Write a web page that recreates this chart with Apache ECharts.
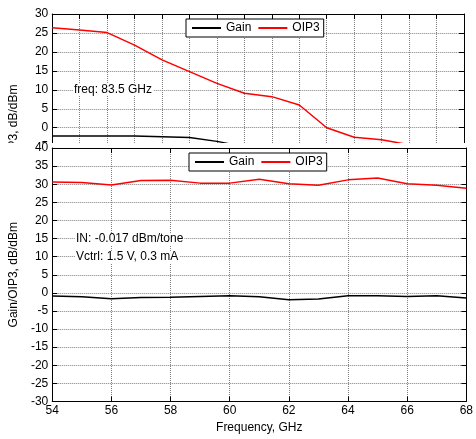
<!DOCTYPE html>
<html>
<head>
<meta charset="utf-8">
<script src="https://cdn.jsdelivr.net/npm/echarts@6/dist/echarts.min.js"></script>
<style>
html,body{margin:0;padding:0;background:#fff}
#chart{width:476px;height:439px}
</style>
</head>
<body>
<div id="chart"></div>
<script>
// upper plot (mostly hidden behind the lower one)
var topSteps = [0, 1, 2, 3, 4, 5, 6, 7, 8, 9, 10, 11, 12, 13, 14, 15];
var topGain = [-2.2, -2.2, -2.2, -2.2, -2.4, -2.6, -3.6, -5.0];
var topOip3 = [26.4, 25.8, 25.1, 21.8, 17.9, 14.8, 11.7, 9.1, 8.2, 6.0, 0, -2.5, -3.2, -4.5];

// lower plot
var freqs = [54, 55, 56, 57, 58, 59, 60, 61, 62, 63, 64, 65, 66, 67, 68];
var gain = [-0.9, -1.1, -1.6, -1.3, -1.2, -1.0, -0.8, -1.1, -1.9, -1.7, -0.8, -0.8, -1.0, -0.8, -1.4];
var oip3 = [30.6, 30.5, 29.8, 31.0, 31.1, 30.3, 30.3, 31.4, 30.1, 29.7, 31.2, 31.7, 30.1, 29.7, 28.9];

var legendNames = ['Gain', 'OIP3'];
var yName = 'Gain/OIP3, dB/dBm';
var xName = 'Frequency, GHz';

var FONT = '"Liberation Sans", Arial, sans-serif';
var gridLine = {show: true, lineStyle: {color: '#808080', type: [1, 1], width: 1}};
var axLine = {show: true, onZero: false, lineStyle: {color: '#000', width: 1}};
var tickIn = {show: true, inside: true, length: 5, lineStyle: {color: '#000'}};

function pairs(xs, ys) {
    var out = [];
    for (var i = 0; i < ys.length; i++) out.push([xs[i], ys[i]]);
    return out;
}

function legendBox(left, top, z) {
    return {
        data: legendNames,
        left: left, top: top, z: z,
        orient: 'horizontal',
        icon: 'rect', itemWidth: 29, itemHeight: 2, itemGap: 7,
        padding: [3, 4, 3, 6],
        borderColor: '#000', borderWidth: 1, backgroundColor: '#fff',
        textStyle: {fontSize: 12, color: '#000', fontFamily: FONT}
    };
}

function noteText(x, y, txt) {
    return {
        type: 'text', x: x, y: y, z: 30,
        style: {
            text: txt, fill: '#000', fontSize: 12, fontFamily: FONT,
            verticalAlign: 'middle', backgroundColor: '#fff', padding: [0, 1]
        }
    };
}

function initChart() {
    var myChart = echarts.init(document.getElementById('chart'));
    var option = {
        animation: false,
        textStyle: {fontFamily: FONT},
        grid: [
            {left: 46, top: 14, width: 418, height: 246.4},
            {left: 46, top: 148, width: 422, height: 253.5}
        ],
        legend: [legendBox(186, 19, 4), legendBox(189, 153, 25)],
        xAxis: [
            {
                gridIndex: 0, type: 'category', data: topSteps, boundaryGap: false, position: 'top',
                axisLine: axLine, axisTick: {show: true, inside: true, length: 5, interval: 0, lineStyle: {color: '#000'}},
                axisLabel: {show: false, interval: 0},
                splitLine: {show: true, interval: 0, lineStyle: gridLine.lineStyle}
            },
            {
                gridIndex: 1, type: 'value', min: 54, max: 68, interval: 2, position: 'bottom', z: 21,
                axisLine: axLine, axisTick: tickIn, splitLine: gridLine,
                axisLabel: {color: '#000', fontSize: 12, margin: 3},
                name: xName, nameLocation: 'middle', nameGap: 20,
                nameTextStyle: {color: '#000', fontSize: 12}
            },
            {
                gridIndex: 1, type: 'value', min: 54, max: 68, interval: 2, position: 'top', z: 21,
                axisLine: axLine, axisTick: tickIn, splitLine: {show: false}, axisLabel: {show: false}
            }
        ],
        yAxis: [
            {
                gridIndex: 0, type: 'value', min: -35, max: 30, interval: 5, position: 'left',
                axisLine: axLine, axisTick: tickIn, splitLine: gridLine,
                axisLabel: {color: '#000', fontSize: 12, margin: 4},
                name: yName, nameLocation: 'middle', nameGap: 30,
                nameTextStyle: {color: '#000', fontSize: 12}
            },
            {
                gridIndex: 0, type: 'value', min: -35, max: 30, interval: 5, position: 'right',
                axisLine: axLine, axisTick: tickIn, splitLine: {show: false}, axisLabel: {show: false}
            },
            {
                gridIndex: 1, type: 'value', min: -30, max: 40, interval: 5, position: 'left', z: 21,
                axisLine: axLine, axisTick: tickIn, splitLine: gridLine,
                axisLabel: {color: '#000', fontSize: 12, margin: 4},
                name: yName, nameLocation: 'middle', nameGap: 30,
                nameTextStyle: {color: '#000', fontSize: 12}
            },
            {
                gridIndex: 1, type: 'value', min: -30, max: 40, interval: 5, position: 'right', z: 21,
                axisLine: axLine, axisTick: tickIn, splitLine: {show: false}, axisLabel: {show: false}
            }
        ],
        graphic: [
            // lower axes sit on top of the upper ones
            {type: 'rect', z: 20, shape: {x: 0, y: 143, width: 476, height: 296}, style: {fill: '#fff'}},
            noteText(73, 90, 'freq: 83.5 GHz'),
            noteText(75, 239, 'IN: -0.017 dBm/tone'),
            noteText(75, 257, 'Vctrl: 1.5 V, 0.3 mA')
        ],
        series: [
            {
                name: 'Gain', type: 'line', xAxisIndex: 0, yAxisIndex: 0, data: topGain,
                symbol: 'none', color: '#000', lineStyle: {width: 1.5}, z: 2
            },
            {
                name: 'OIP3', type: 'line', xAxisIndex: 0, yAxisIndex: 0, data: topOip3,
                symbol: 'none', color: '#ff0000', lineStyle: {width: 1.5}, z: 2
            },
            {
                name: 'Gain', type: 'line', xAxisIndex: 1, yAxisIndex: 2, data: pairs(freqs, gain),
                symbol: 'none', color: '#000', lineStyle: {width: 1.5}, z: 22
            },
            {
                name: 'OIP3', type: 'line', xAxisIndex: 1, yAxisIndex: 2, data: pairs(freqs, oip3),
                symbol: 'none', color: '#ff0000', lineStyle: {width: 1.5}, z: 22
            }
        ]
    };
    myChart.setOption(option);
}

initChart();
</script>
</body>
</html>
